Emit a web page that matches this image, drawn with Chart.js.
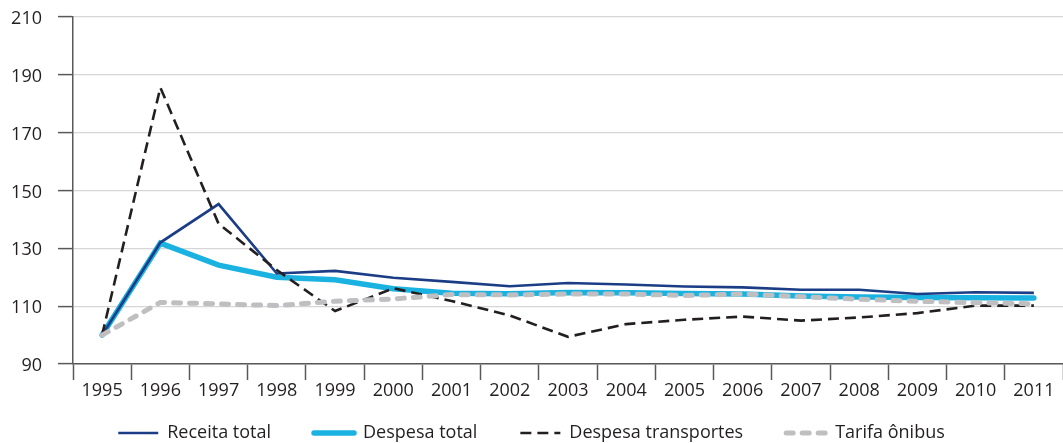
<!DOCTYPE html>
<html>
<head>
<meta charset="utf-8">
<script src="https://cdn.jsdelivr.net/npm/chart.js@4"></script>
<style>
  html, body { margin: 0; padding: 0; background: #fff; }
  #wrap { width: 1063px; height: 443px; }
</style>
</head>
<body>
<div id="wrap"><canvas id="indexChart" width="1063" height="443"></canvas></div>
<script>
'use strict';

var anos = ['1995','1996','1997','1998','1999','2000','2001','2002','2003','2004','2005','2006','2007','2008','2009','2010','2011'];
var receitaTotal       = [100, 132.0, 145.3, 121.3, 122.2, 119.8, 118.4, 116.9, 118.0, 117.5, 116.8, 116.5, 115.7, 115.7, 114.2, 114.8, 114.6];
var despesaTotal       = [100, 131.8, 124.2, 120.0, 119.1, 116.0, 114.5, 114.3, 114.7, 114.6, 114.4, 114.2, 113.5, 113.2, 113.0, 112.9, 112.8];
var despesaTransportes = [100, 185.6, 138.5, 122.5, 108.3, 116.2, 111.8, 106.8, 99.4, 103.8, 105.3, 106.4, 105.0, 106.1, 107.6, 110.2, 110.2];
var tarifaOnibus       = [100, 111.3, 110.8, 110.2, 111.7, 112.5, 114.0, 113.9, 114.2, 114.2, 113.7, 114.2, 113.3, 112.4, 111.7, 111.2, 110.8];
var yMin = 90, yMax = 210, yStep = 20;

var textColor = '#231f20';
var axisColor = '#58595b';
var gridColor = '#d6d6d6';
var fonte = { family: "'Open Sans', 'Noto Sans', sans-serif", size: 18 };

// legend sits lower than chart.js puts it by default
var legendFit = {
    id: 'legendFit',
    beforeInit: function (chart) {
        var fit = chart.legend.fit;
        chart.legend.fit = function () {
            fit.bind(chart.legend)();
            this.height -= 9;
        };
    }
};

// point style legend ignores the dash, so copy it from the dataset
function legendLabels(chart) {
    var items = Chart.defaults.plugins.legend.labels.generateLabels(chart);
    items.forEach(function (item) {
        var ds = chart.data.datasets[item.datasetIndex];
        item.lineDash = ds.borderDash || [];
        item.lineCap = ds.borderCapStyle || 'butt';
        item.lineWidth = ds.borderWidth;
        item.strokeStyle = ds.borderColor;
    });
    return items;
}

var ctx = document.getElementById('indexChart').getContext('2d');
var chart = new Chart(ctx, {
    type: 'line',
    data: {
        labels: anos,
        datasets: [{
            label: 'Receita total',
            data: receitaTotal,
            borderColor: '#1b3d86',
            backgroundColor: '#1b3d86',
            borderWidth: 2.6,
            order: 3
        },
        {
            label: 'Despesa total',
            data: despesaTotal,
            borderColor: '#1ab2e0',
            backgroundColor: '#1ab2e0',
            borderWidth: 5.5,
            borderCapStyle: 'round',
            order: 4
        },
        {
            label: 'Despesa transportes',
            data: despesaTransportes,
            borderColor: '#231f20',
            backgroundColor: '#231f20',
            borderWidth: 2.6,
            borderDash: [11, 6],
            order: 2
        },
        {
            label: 'Tarifa ônibus',
            data: tarifaOnibus,
            borderColor: '#bfbfc1',
            backgroundColor: '#bfbfc1',
            borderWidth: 5,
            borderDash: [7, 9],
            borderCapStyle: 'round',
            order: 1
        }]
    },
    options: {
        responsive: false,
        animation: false,
        elements: {
            point: { radius: 0, hoverRadius: 0 },
            line: { tension: 0, fill: false }
        },
        layout: { padding: { top: 17, left: 0, right: 0, bottom: 0 } },
        plugins: {
            tooltip: { enabled: false },
            legend: {
                position: 'bottom',
                labels: {
                    usePointStyle: true,
                    pointStyle: 'line',
                    pointStyleWidth: 40,
                    padding: 43,
                    color: textColor,
                    font: fonte,
                    generateLabels: legendLabels,
                    sort: function (a, b) { return a.datasetIndex - b.datasetIndex; }
                }
            }
        },
        scales: {
            x: {
                offset: true,
                grid: {
                    offset: true,
                    drawOnChartArea: false,
                    drawTicks: true,
                    tickLength: 16,
                    tickColor: axisColor,
                    tickWidth: 1.5
                },
                border: { color: axisColor, width: 1.5 },
                ticks: { color: textColor, font: fonte, padding: 0, maxRotation: 0, autoSkip: false },
                afterFit: function (scale) {
                    scale.height = 443 - 364 - 62;
                    // labels hang below the squeezed box, so don't clip them
                    scale._computeLabelArea = function () { return null; };
                }
            },
            y: {
                min: yMin,
                max: yMax,
                grid: {
                    color: gridColor,
                    lineWidth: 1.2,
                    tickLength: 15,
                    tickColor: axisColor,
                    tickWidth: 1.5
                },
                border: { color: axisColor, width: 1.5 },
                ticks: { stepSize: yStep, color: textColor, font: fonte, padding: 16, labelOffset: 2 },
                afterFit: function (scale) {
                    scale.width = 73;
                    scale.paddingTop = 0;
                    scale.paddingBottom = 0;
                }
            }
        }
    },
    plugins: [legendFit]
});
</script>
</body>
</html>
